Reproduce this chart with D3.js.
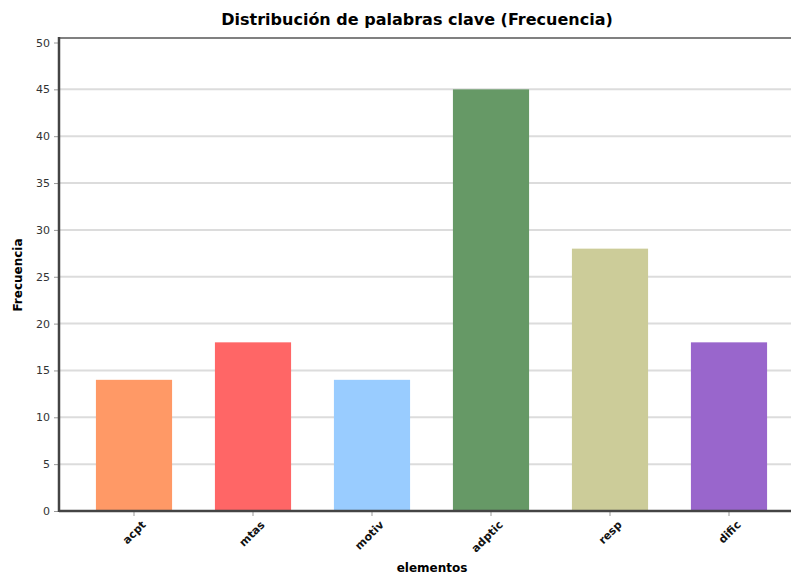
<!DOCTYPE html>
<html>
<head>
<meta charset="utf-8">
<script src="https://cdn.jsdelivr.net/npm/d3@7"></script>
<style>
  body { margin: 0; background: #fff; }
  svg text { font-family: "DejaVu Sans", Verdana, sans-serif; }
</style>
</head>
<body>
<div id="chart"></div>
<script>
const categories = ["acpt", "mtas", "motiv", "adptic", "resp", "dific"];
const values = [14, 18, 14, 45, 28, 18];
const colors = ["#ff9966", "#ff6666", "#99ccff", "#669966", "#cccc99", "#9966cc"];
const yTicks = [0, 5, 10, 15, 20, 25, 30, 35, 40, 45, 50];

function main() {
    const width = 791;
    const height = 577;
    const left = 59, right = 791, top = 38, bottom = 511;

    const svg = d3.select("#chart").append("svg")
        .attr("width", width)
        .attr("height", height);

    const x = d3.scaleBand()
        .domain(categories)
        .range([74.5, 788.5])
        .paddingInner(0.36)
        .paddingOuter(0.18);

    const y = d3.scaleLinear()
        .domain([0, 50])
        .range([bottom, 42.5]);

    // grid
    svg.append("g")
        .selectAll("line")
        .data(yTicks.slice(1, -1))
        .enter().append("line")
        .attr("x1", left).attr("x2", right)
        .attr("y1", d => y(d)).attr("y2", d => y(d))
        .attr("stroke", "#dcdcdc")
        .attr("stroke-width", 2);

    // top border
    svg.append("line")
        .attr("x1", left).attr("x2", right)
        .attr("y1", top).attr("y2", top)
        .attr("stroke", "#808080")
        .attr("stroke-width", 2);

    // bars
    svg.append("g")
        .selectAll("rect")
        .data(values)
        .enter().append("rect")
        .attr("x", (d, i) => x(categories[i]))
        .attr("y", d => y(d))
        .attr("width", x.bandwidth())
        .attr("height", d => y(0) - y(d))
        .attr("fill", (d, i) => colors[i]);

    // y axis
    const yAxis = svg.append("g")
        .attr("transform", `translate(${left},0)`)
        .call(d3.axisLeft(y).tickValues(yTicks).tickSize(5).tickPadding(4));
    yAxis.select(".domain").remove();
    yAxis.selectAll(".tick line").attr("stroke", "#999");
    yAxis.selectAll(".tick text")
        .attr("font-size", 11)
        .attr("fill", "#333");

    svg.append("line")
        .attr("x1", left).attr("x2", left)
        .attr("y1", top - 1).attr("y2", bottom + 1)
        .attr("stroke", "#444")
        .attr("stroke-width", 2.5);

    // x axis
    const xAxis = svg.append("g")
        .attr("transform", `translate(0,${bottom})`)
        .call(d3.axisBottom(x).tickSize(5).tickPadding(6));
    xAxis.select(".domain").remove();
    xAxis.selectAll(".tick line").attr("stroke", "#999");
    xAxis.selectAll(".tick text")
        .attr("font-size", 11)
        .attr("font-weight", "bold")
        .attr("fill", "#111")
        .attr("text-anchor", "end")
        .attr("dy", "0.35em")
        .attr("transform", "translate(2,4) rotate(-45)");

    svg.append("line")
        .attr("x1", left).attr("x2", right)
        .attr("y1", bottom).attr("y2", bottom)
        .attr("stroke", "#444")
        .attr("stroke-width", 2.5);

    // titles
    svg.append("text")
        .attr("x", 417)
        .attr("y", 25)
        .attr("text-anchor", "middle")
        .attr("font-size", 16)
        .attr("font-weight", "bold")
        .attr("fill", "#000")
        .text("Distribución de palabras clave (Frecuencia)");

    svg.append("text")
        .attr("transform", "translate(22,275) rotate(-90)")
        .attr("text-anchor", "middle")
        .attr("font-size", 12)
        .attr("font-weight", "bold")
        .attr("fill", "#000")
        .text("Frecuencia");

    svg.append("text")
        .attr("x", 432)
        .attr("y", 572)
        .attr("text-anchor", "middle")
        .attr("font-size", 12)
        .attr("font-weight", "bold")
        .attr("fill", "#000")
        .text("elementos");
}
main();
</script>
</body>
</html>
